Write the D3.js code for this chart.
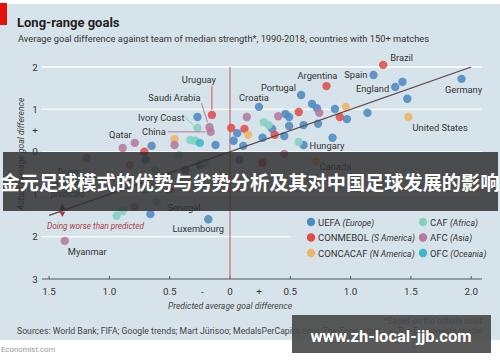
<!DOCTYPE html>
<html>
<head>
<meta charset="utf-8">
<script src="https://cdn.jsdelivr.net/npm/d3@7.9.0/dist/d3.min.js"></script>
<style>
  html, body { margin: 0; padding: 0; background: #fff; }
  svg { display: block; font-family: Roboto, "Open Sans", sans-serif; }
</style>
</head>
<body>
<svg id="chart" width="500" height="362"></svg>
<script>
// values: [predicted, actual] goal difference
const uefa = [
  {name: 'Spain', x: 1.19, y: 1.81}, {name: 'England', x: 1.37, y: 1.53}, {x: 1.43, y: 1.65},
  {name: 'Germany', x: 1.92, y: 1.72}, {x: 1.47, y: 1.25}, {x: 1.14, y: 0.92},
  {name: 'Portugal', x: 0.59, y: 1.34}, {name: 'Croatia', x: 0.24, y: 1.06},
  {x: 0.49, y: 0.82}, {x: 0.46, y: 0.89}, {x: 0.68, y: 1.13}, {x: 0.72, y: 1.03},
  {x: 0.87, y: 1.01}, {x: 0.97, y: 0.77}, {x: 0.49, y: 0.61}, {x: 0.73, y: 0.66},
  {x: 0.35, y: 0.54}, {x: 0.45, y: 0.37}, {x: 0.85, y: 0.33}, {x: 0.06, y: 0.44},
  {x: 0.03, y: 0.26}, {x: 0.11, y: 0.14}, {x: -0.27, y: 0.82}, {x: -0.12, y: 0.16},
  {x: -0.65, y: 0.14}, {name: 'Luxembourg', x: -0.18, y: -1.59}, {x: -0.66, y: -1.47},
  {x: 0.27, y: 0.33}, {x: 0.61, y: 0.63}, {name: 'Hungary', x: 0.61, y: 0.16},
  {x: -0.70, y: -0.19}, {x: -0.25, y: -0.31}, {x: 0.08, y: -0.19}, {x: -0.37, y: -0.43}
];
const conmebol = [
  {name: 'Brazil', x: 1.27, y: 2.05}, {name: 'Argentina', x: 0.80, y: 1.55},
  {name: 'Uruguay', x: -0.15, y: 0.87}, {x: 0.01, y: 0.56}, {x: 0.12, y: 0.54},
  {x: 0.57, y: 0.94}, {x: 0.91, y: 0.82}, {x: 0.37, y: 0.40}, {x: -0.71, y: 0.00},
  {x: 0.27, y: -0.26}
];
const concacaf = [
  {name: 'United States', x: 1.48, y: 0.82}, {x: 0.96, y: 1.06}, {x: 0.15, y: 0.40},
  {x: -0.46, y: 0.30}, {name: 'Canada', x: 0.71, y: -0.22}
];
const caf = [
  {name: 'Ivory Coast', x: -0.27, y: 0.56}, {x: 0.32, y: 0.63}, {x: 0.28, y: 0.70},
  {x: 0.57, y: 0.23}, {x: -0.33, y: 0.28}, {x: -0.29, y: 0.26},
  {name: 'Senegal', x: -0.61, y: -1.18}, {x: -0.94, y: -1.51}, {x: -0.89, y: -1.40},
  {x: -0.42, y: -0.08}, {x: -0.51, y: -0.55}, {x: -0.62, y: -0.43}, {x: -0.21, y: -0.26},
  {x: -0.71, y: -0.90}
];
const afc = [
  {name: 'China', x: -0.16, y: 0.47}, {name: 'Saudi Arabia', x: -0.17, y: 0.58},
  {name: 'Qatar', x: -0.79, y: 0.21}, {x: -0.89, y: 0.09}, {x: -0.46, y: 0.16},
  {x: 0.14, y: 0.82}, {x: 0.40, y: 0.84}, {x: 0.74, y: 0.92},
  {name: 'Myanmar', x: -1.37, y: -2.10}, {x: -1.19, y: -0.15}, {x: 0.45, y: -0.05},
  {x: -0.79, y: -1.30}, {x: -0.83, y: -0.31}, {x: -0.50, y: -0.90}
];
const ofc = [
  {x: -0.25, y: 0.21}
];

const xTicks = [-1.5, -1, -0.5, 0, 0.5, 1, 1.5, 2];
const yTicks = [2, 1, 0, -1, -2, -3];

const confeds = [
  {key: 'UEFA', region: 'Europe', color: '#4f89c2', data: uefa},
  {key: 'CONMEBOL', region: 'S America', color: '#e14c4b', data: conmebol},
  {key: 'CONCACAF', region: 'N America', color: '#efb462', data: concacaf},
  {key: 'CAF', region: 'Africa', color: '#84d0bf', data: caf},
  {key: 'AFC', region: 'Asia', color: '#b47a9d', data: afc},
  {key: 'OFC', region: 'Oceania', color: '#3db6c8', data: ofc}
];

// label placement relative to the point (pixels)
const labelSpecs = [
  {name: 'Brazil', dx: 7, dy: -4, anchor: 'start'},
  {name: 'Spain', dx: -6, dy: 3, anchor: 'end'},
  {name: 'England', dx: -6, dy: 5, anchor: 'end'},
  {name: 'Germany', dx: 2, dy: 14, anchor: 'middle'},
  {name: 'United States', dx: 4, dy: 14, anchor: 'start'},
  {name: 'Argentina', dx: -9, dy: -7, anchor: 'middle'},
  {name: 'Portugal', dx: -5, dy: -4, anchor: 'end'},
  {name: 'Croatia', dx: -5, dy: -6, anchor: 'middle'},
  {name: 'Hungary', dx: 6, dy: 4, anchor: 'start'},
  {name: 'Canada', dx: 4, dy: 9, anchor: 'start'},
  {name: 'Uruguay', dx: 4, dy: -32, anchor: 'end', leader: [0, -29, 0, -5]},
  {name: 'Saudi Arabia', dx: -9, dy: -26, anchor: 'end', leader: [-8, -24, -2, -5]},
  {name: 'Ivory Coast', dx: -13, dy: -7, anchor: 'end', leader: [-12, -10, -4, -3]},
  {name: 'China', dx: -45, dy: 3, anchor: 'end', leader: [-43, 0, -5, 0]},
  {name: 'Qatar', dx: -3, dy: -5, anchor: 'end'},
  {name: 'Senegal', dx: 11, dy: 9, anchor: 'start'},
  {name: 'Luxembourg', dx: -10, dy: 13, anchor: 'middle'},
  {name: 'Myanmar', dx: 3, dy: 14, anchor: 'start'}
];

const svg = d3.select('#chart');

const x = d3.scaleLinear().domain([-1.5, 2]).range([49.1, 471.2]);
const y = d3.scaleLinear().domain([-3, 2]).range([279, 67]);

// background + header
svg.append('rect').attr('x', 0).attr('y', 4).attr('width', 500).attr('height', 336).attr('fill', '#d7e3ea');
svg.append('rect').attr('x', 0).attr('y', 3).attr('width', 7).attr('height', 22).attr('fill', '#e3120b');
svg.append('text').attr('x', 17).attr('y', 27).attr('font-size', 13).attr('font-weight', 700)
  .attr('fill', '#222').text('Long-range goals');
svg.append('text').attr('x', 18).attr('y', 42).attr('font-size', 9.3).attr('fill', '#333')
  .text('Average goal difference against team of median strength*, 1990-2018, countries with 150+ matches');

// gridlines
const grid = svg.append('g');
yTicks.filter(d => d > -3).forEach(d => {
  grid.append('line')
    .attr('x1', 42).attr('x2', d === -2 ? 290 : 482)
    .attr('y1', y(d)).attr('y2', y(d))
    .attr('stroke', '#fff').attr('stroke-width', 1.3);
});

// y labels (absolute values, with +/- markers)
const yLab = svg.append('g').attr('font-size', 9.8).attr('fill', '#333').attr('text-anchor', 'middle');
yTicks.forEach(d => {
  yLab.append('text').attr('x', 35).attr('y', y(d) + 3.5).text(Math.abs(d));
});
yLab.append('text').attr('x', 35).attr('y', y(0.5) + 3.5).text('+');
yLab.append('text').attr('x', 35).attr('y', y(-0.5) + 3.5).text('-');

svg.append('text')
  .attr('transform', `translate(24,${y(-0.05)}) rotate(-90)`)
  .attr('text-anchor', 'middle').attr('font-size', 8.6).attr('font-style', 'italic').attr('fill', '#444')
  .text('Actual average goal difference');

// x axis
const xAxis = svg.append('g');
xAxis.append('line').attr('x1', 42).attr('x2', 482).attr('y1', y(-3)).attr('y2', y(-3))
  .attr('stroke', '#555').attr('stroke-width', 1);
xTicks.forEach(d => {
  xAxis.append('line').attr('x1', x(d)).attr('x2', x(d)).attr('y1', y(-3) - 3).attr('y2', y(-3))
    .attr('stroke', '#555');
  xAxis.append('text').attr('x', x(d)).attr('y', 295).attr('text-anchor', 'middle')
    .attr('font-size', 9.8).attr('fill', '#333')
    .text(d === 0 ? '0' : d3.format('.1f')(Math.abs(d)));
});
xAxis.append('text').attr('x', x(-0.23)).attr('y', 295).attr('text-anchor', 'middle')
  .attr('font-size', 9.8).attr('fill', '#333').text('-');
xAxis.append('text').attr('x', x(0.24)).attr('y', 295).attr('text-anchor', 'middle')
  .attr('font-size', 9.8).attr('fill', '#333').text('+');
svg.append('text').attr('x', x(0)).attr('y', 309).attr('text-anchor', 'middle')
  .attr('font-size', 8.6).attr('font-style', 'italic').attr('fill', '#444')
  .text('Predicted average goal difference');

// zero line
svg.append('line').attr('x1', x(0)).attr('x2', x(0)).attr('y1', y(2)).attr('y2', y(-3))
  .attr('stroke', '#c0656c').attr('stroke-width', 1.1);

// points
const pts = svg.append('g');
confeds.forEach(c => {
  pts.selectAll(null).data(c.data).join('circle')
    .attr('cx', d => x(d.x)).attr('cy', d => y(d.y)).attr('r', 4.2)
    .attr('fill', c.color).attr('fill-opacity', 0.88);
});

// actual = predicted line
svg.append('line').attr('x1', x(-1.5)).attr('y1', y(-1.5)).attr('x2', x(2)).attr('y2', y(2))
  .attr('stroke', '#5a4444').attr('stroke-width', 1.2);
const ax = x(-1.39), ay = y(-1.39);
svg.append('path').attr('d', `M${ax - 3},${ay - 1} L${ax + 3},${ay - 1} L${ax},${ay - 7} Z`).attr('fill', '#4a3a3a');
svg.append('path').attr('d', `M${ax - 3},${ay + 1} L${ax + 3},${ay + 1} L${ax},${ay + 6} Z`).attr('fill', '#a8383c');

const better = svg.append('text').attr('font-size', 8.4).attr('font-style', 'italic')
  .attr('fill', '#555').attr('text-anchor', 'middle');
['Doing', 'better than', 'predicted'].forEach((t, i) => {
  better.append('tspan').attr('x', 68).attr('y', 175 + i * 11).text(t);
});
svg.append('text').attr('x', 47).attr('y', 229).attr('font-size', 8.2).attr('font-style', 'italic')
  .attr('fill', '#ad3f45').text('Doing worse than predicted');

// country labels
const all = confeds.flatMap(c => c.data.map(d => ({...d, color: c.color})));
const lab = svg.append('g').attr('font-size', 9.3).attr('fill', '#333');
labelSpecs.forEach(s => {
  const p = all.find(d => d.name === s.name);
  const px = x(p.x), py = y(p.y);
  if (s.leader) {
    lab.append('line')
      .attr('x1', px + s.leader[0]).attr('y1', py + s.leader[1])
      .attr('x2', px + s.leader[2]).attr('y2', py + s.leader[3])
      .attr('stroke', p.color).attr('stroke-width', 1);
  }
  lab.append('text').attr('x', px + s.dx).attr('y', py + s.dy)
    .attr('text-anchor', s.anchor).text(s.name);
});

// legend
const legend = svg.append('g').attr('font-size', 9.5).attr('fill', '#333');
confeds.forEach((c, i) => {
  const lx = i < 3 ? 311 : 423;
  const ly = 222 + (i % 3) * 15.5;
  legend.append('circle').attr('cx', lx).attr('cy', ly).attr('r', 4.2).attr('fill', c.color);
  const t = legend.append('text').attr('x', lx + 7).attr('y', ly + 3.5);
  t.append('tspan').text(c.key + ' ');
  t.append('tspan').attr('font-style', 'italic').attr('font-size', 8.6).text('(' + c.region + ')');
});

// footer
svg.append('text').attr('x', 17).attr('y', 334).attr('font-size', 8.7).attr('fill', '#444')
  .text('Sources: World Bank; FIFA; Google trends; Mart Jürisoo; MedalsPerCapita.com; The Economist');
const note = svg.append('text').attr('font-size', 8.2).attr('fill', '#444').attr('text-anchor', 'end');
note.append('tspan').attr('x', 482).attr('y', 324).text('*Based on the criteria used');
note.append('tspan').attr('x', 482).attr('y', 334).text("in The Economist's model");
svg.append('text').attr('x', 1).attr('y', 352).attr('font-size', 7.8).attr('fill', '#999').text('Economist.com');

// overlay banner and watermark
svg.append('rect').attr('x', 3).attr('y', 152).attr('width', 495).attr('height', 59)
  .attr('fill', '#2e2e2e').attr('fill-opacity', 0.84);
svg.append('text').attr('x', 250).attr('y', 190).attr('text-anchor', 'middle')
  .attr('font-family', '"Noto Sans CJK SC", sans-serif').attr('font-weight', 700)
  .attr('font-size', 19.2).attr('fill', '#fff')
  .text('金元足球模式的优势与劣势分析及其对中国足球发展的影响');
svg.append('rect').attr('x', 292).attr('y', 315).attr('width', 199).attr('height', 38)
  .attr('fill', '#474747').attr('fill-opacity', 0.9);
svg.append('text').attr('x', 391).attr('y', 342).attr('text-anchor', 'middle')
  .attr('font-weight', 700).attr('font-size', 16.5).attr('fill', '#fff')
  .text('www.zh-local-jjb.com');
</script>
</body>
</html>
